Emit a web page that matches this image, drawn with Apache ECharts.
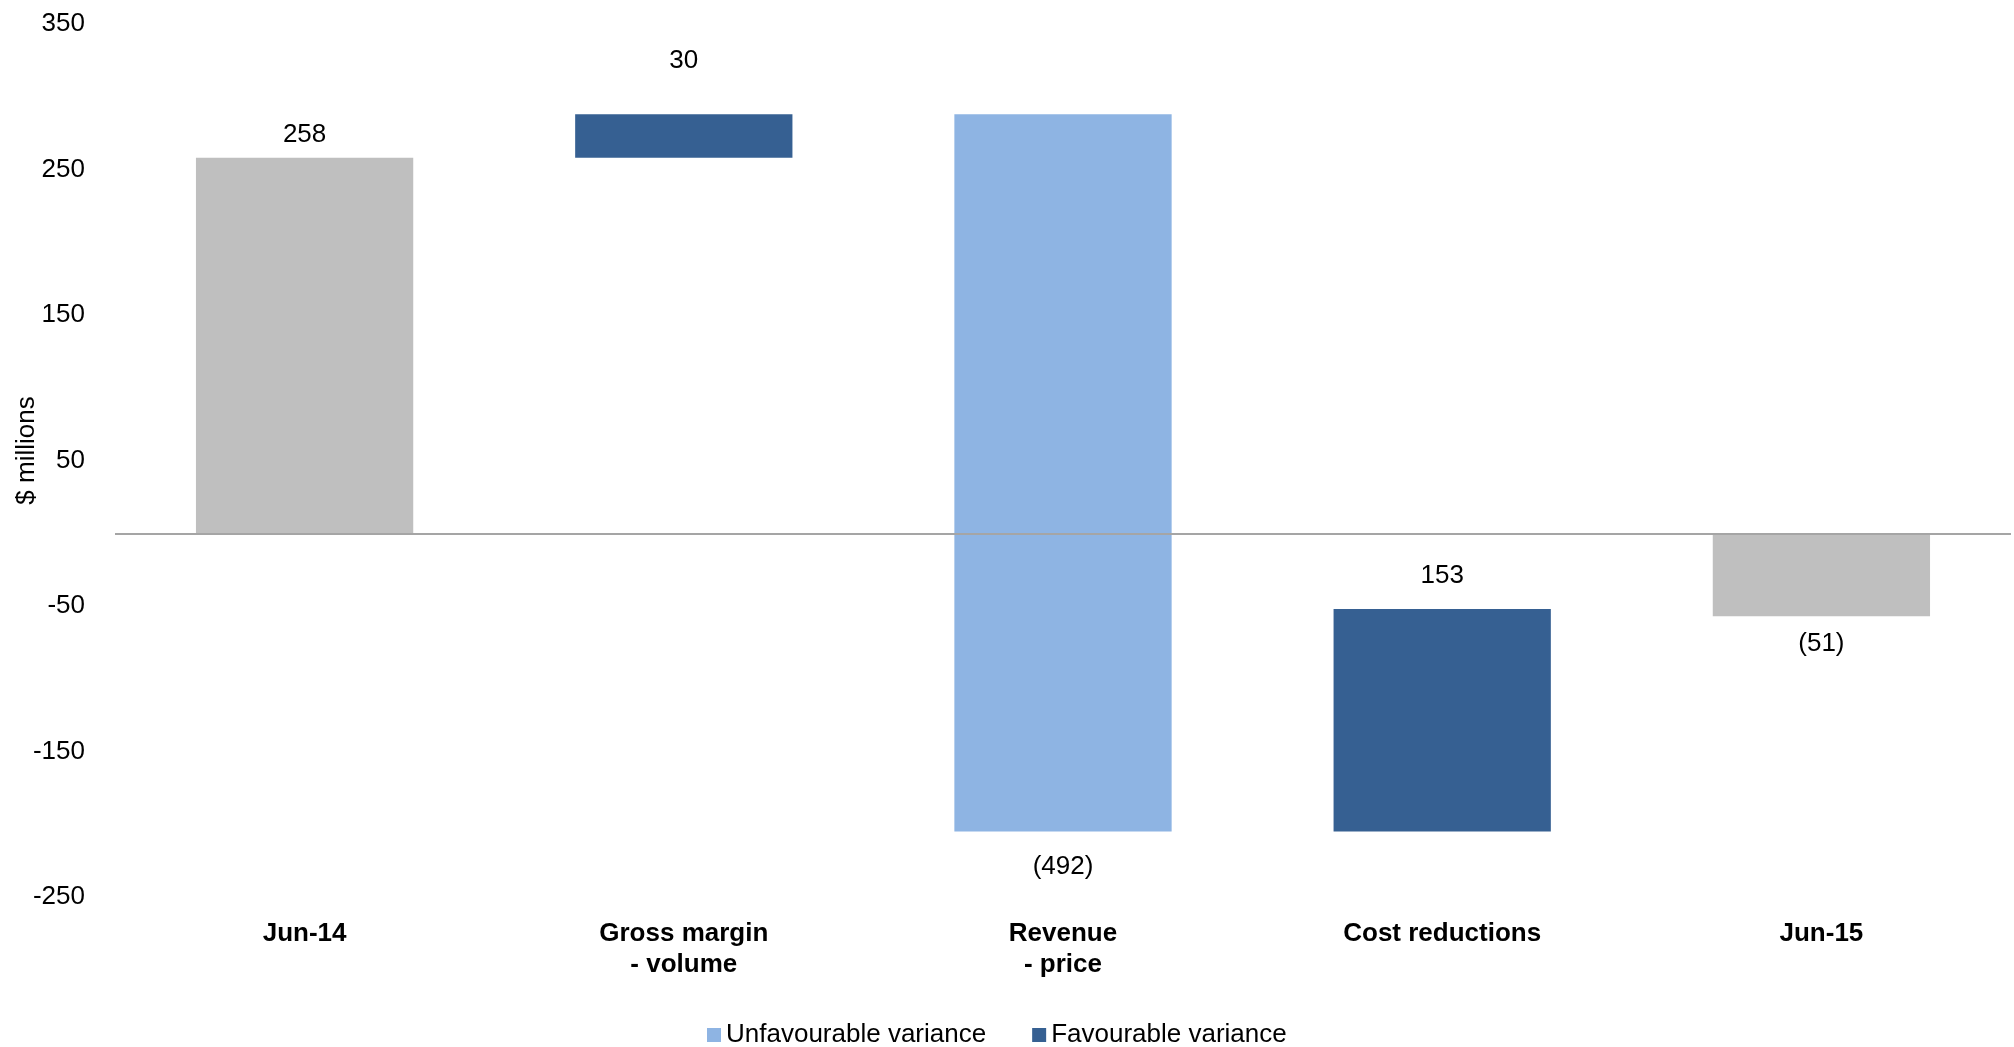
<!DOCTYPE html>
<html>
<head>
<meta charset="UTF-8">
<title>Waterfall</title>
<style type="text/css">
	html, body { margin: 0; padding: 0; background: #fff; }
	#main { width: 2014px; height: 1047px; }
</style>
<script type="text/javascript" src="https://cdn.jsdelivr.net/npm/echarts@6/dist/echarts.min.js"></script>
</head>
<body>
	<div id="main"></div>
<script type="text/javascript">
	// data
	var categories = ['Jun-14', 'Gross margin\n- volume', 'Revenue\n- price', 'Cost reductions', 'Jun-15'];
	var barLow = [0, 258, -205, -205, -57];
	var barHigh = [258, 288, 288, -52, 0];
	var labelText = ['258', '30', '(492)', '153', '(51)'];
	var barKind = ['total', 'fav', 'unfav', 'fav', 'total'];

	var yTickMin = -250;
	var yTickMax = 350;
	var yTickStep = 100;

	// label placement (above / below the bar, gap in px)
	var labelSide = ['top', 'top', 'bottom', 'top', 'bottom'];
	var labelGap = [10, 40, 22, 20, 15];

	var colors = { total: '#bfbfbf', unfav: '#8eb4e3', fav: '#366092' };
	var font = 'Liberation Sans, Arial, sans-serif';

	function pick(kind) {
		var out = [];
		for (var i = 0; i < categories.length; i++) {
			if (barKind[i] === kind) out.push([i, barLow[i], barHigh[i]]);
		}
		return out;
	}

	function renderBar(params, api) {
		var i = api.value(0);
		var lo = api.coord([i, api.value(1)]);
		var hi = api.coord([i, api.value(2)]);
		var w = api.size([1, 0])[0] * 0.573;
		var top = labelSide[i] === 'top';
		return {
			type: 'group',
			children: [{
				type: 'rect',
				shape: { x: lo[0] - w / 2, y: hi[1], width: w, height: lo[1] - hi[1] },
				style: api.style()
			}, {
				type: 'text',
				style: {
					text: labelText[i],
					x: lo[0],
					y: top ? hi[1] - labelGap[i] : lo[1] + labelGap[i],
					align: 'center',
					verticalAlign: top ? 'bottom' : 'top',
					fill: '#000',
					font: '26px ' + font
				}
			}]
		};
	}

	var mychar = echarts.init(document.getElementById('main'));

	var option = {
		animation: false,
		textStyle: { fontFamily: font },
		grid: { left: 115, right: 3, top: 24, bottom: 150, outerBoundsMode: 'none', containLabel: false },
		legend: {
			data: ['Unfavourable variance', 'Favourable variance'],
			left: 702,
			top: 1017,
			icon: 'rect',
			itemWidth: 14,
			itemHeight: 14,
			itemGap: 46,
			textStyle: { fontSize: 26, color: '#000', fontFamily: font }
		},
		xAxis: {
			type: 'category',
			data: categories,
			axisLine: { show: false },
			axisTick: { show: false },
			axisLabel: {
				interval: 0,
				fontSize: 26,
				fontWeight: 'bold',
				color: '#000',
				margin: 21,
				lineHeight: 31
			}
		},
		yAxis: {
			type: 'value',
			min: yTickMin,
			max: yTickMax,
			interval: yTickStep,
			name: '$ millions',
			nameLocation: 'middle',
			nameRotate: 90,
			nameGap: 75,
			nameMoveOverlap: false,
			nameTextStyle: { fontSize: 26, color: '#000', padding: [0, 0, 0, 20] },
			axisLine: { show: false },
			axisTick: { show: false },
			splitLine: { show: false },
			axisLabel: { fontSize: 26, color: '#000', margin: 30 }
		},
		series: [{
			name: 'Total',
			type: 'custom',
			renderItem: renderBar,
			itemStyle: { color: colors.total },
			encode: { x: 0, y: [1, 2] },
			data: pick('total'),
			markLine: {
				silent: true,
				symbol: 'none',
				label: { show: false },
				lineStyle: { color: '#a5a5a5', width: 2, type: 'solid' },
				data: [{ yAxis: 0 }]
			}
		}, {
			name: 'Unfavourable variance',
			type: 'custom',
			renderItem: renderBar,
			itemStyle: { color: colors.unfav },
			encode: { x: 0, y: [1, 2] },
			data: pick('unfav')
		}, {
			name: 'Favourable variance',
			type: 'custom',
			renderItem: renderBar,
			itemStyle: { color: colors.fav },
			encode: { x: 0, y: [1, 2] },
			data: pick('fav')
		}]
	};
	mychar.setOption(option);
</script>
</body>
</html>
